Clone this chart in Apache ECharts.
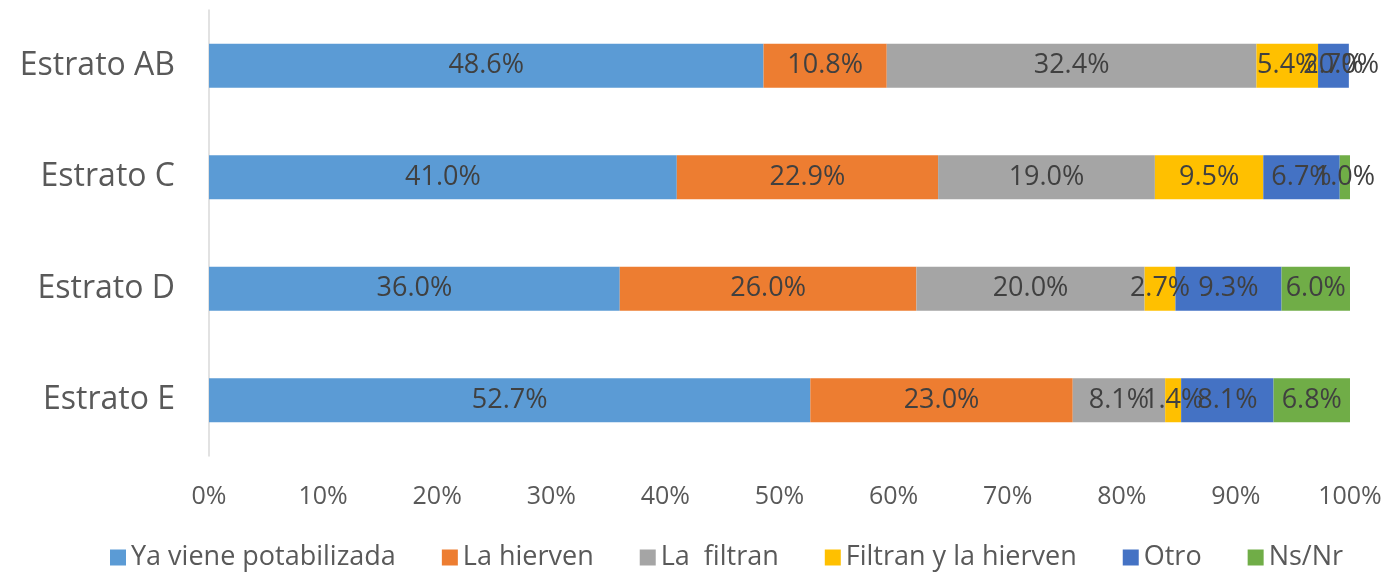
<!DOCTYPE html>
<html>
<head>
<meta charset="utf-8">
<script src="https://cdn.jsdelivr.net/npm/echarts@6/dist/echarts.min.js"></script>
<style>
  html, body { margin: 0; padding: 0; background: #fff; }
  #chart { width: 1391px; height: 576px; }
</style>
</head>
<body>
<div id="chart"></div>
<script>
// categories, top to bottom
const estratos = ['Estrato AB', 'Estrato C', 'Estrato D', 'Estrato E'];

// percentages per estrato (same order as estratos)
const yaPotabilizada = [48.6, 41.0, 36.0, 52.7];
const laHierven = [10.8, 22.9, 26.0, 23.0];
const laFiltran = [32.4, 19.0, 20.0, 8.1];
const filtranHierven = [5.4, 9.5, 2.7, 1.4];
const otro = [2.7, 6.7, 9.3, 8.1];
const nsNr = [0.0, 1.0, 6.0, 6.8];

const seriesNames = ['Ya viene potabilizada', 'La hierven', 'La  filtran', 'Filtran y la hierven', 'Otro', 'Ns/Nr'];
const seriesColors = ['#5B9BD5', '#ED7D31', '#A5A5A5', '#FFC000', '#4472C4', '#70AD47'];
const seriesData = [yaPotabilizada, laHierven, laFiltran, filtranHierven, otro, nsNr];

const font = '"Open Sans", Lato, sans-serif';

let myChart = echarts.init(document.getElementById('chart'));
let option = {
  animation: false,
  textStyle: { fontFamily: font },
  legend: {
    bottom: 0,
    left: 105,
    itemWidth: 16,
    itemHeight: 16,
    itemGap: 46,
    icon: 'rect',
    textStyle: { fontSize: 27, color: '#595959', fontFamily: font },
    data: seriesNames
  },
  grid: {
    left: 209,
    right: 41,
    top: 10,
    bottom: 120
  },
  xAxis: {
    type: 'value',
    min: 0,
    max: 100,
    interval: 10,
    axisLine: { show: false },
    axisTick: { show: false },
    splitLine: { show: false },
    axisLabel: {
      margin: 28,
      fontSize: 25,
      color: '#595959',
      formatter: v => v + '%'
    }
  },
  yAxis: {
    type: 'category',
    data: estratos,
    inverse: true,
    axisLine: { lineStyle: { color: '#D9D9D9', width: 1.5 } },
    axisTick: { show: false },
    axisLabel: {
      margin: 34,
      fontSize: 32,
      color: '#595959',
      padding: [6, 0, 0, 0]
    }
  },
  series: seriesNames.map((name, i) => ({
    name: name,
    type: 'bar',
    stack: 'total',
    barWidth: 44,
    itemStyle: { color: seriesColors[i] },
    label: {
      show: true,
      position: 'inside',
      fontSize: 27,
      color: '#404040',
      padding: [5, 0, 0, 0],
      formatter: p => p.value.toFixed(1) + '%'
    },
    data: seriesData[i]
  }))
};
myChart.setOption(option);
</script>
</body>
</html>
